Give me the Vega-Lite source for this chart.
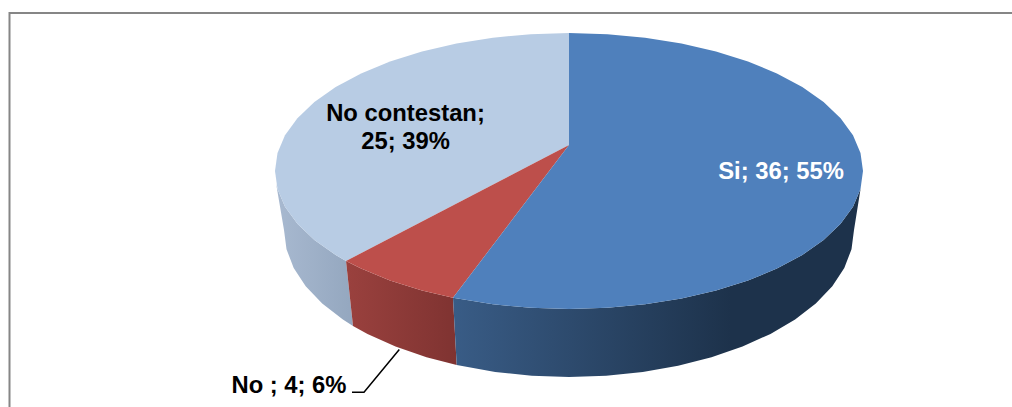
{"$schema":"https://vega.github.io/schema/vega-lite/v6.json","width":1012,"height":407,"autosize":"none","padding":0,"background":"#ffffff","config":{"view":{"stroke":null}},
"datasets":{
"marco":[{"x":-559.5,"y":-262},{"x":-559.5,"y":132},{"x":443,"y":132}],
"lado_nc":[{"x":-293,"y":-38},{"x":-291.5,"y":-44},{"x":-284,"y":-61.7},{"x":-271.6,"y":-78.8},{"x":-254.6,"y":-95},{"x":-233.3,"y":-110},{"x":-223,"y":-116},{"x":-216,"y":-181},{"x":-226.1,"y":-174.5},{"x":-246.8,"y":-158.5},{"x":-263.3,"y":-141.3},{"x":-275.3,"y":-123},{"x":-282.5,"y":-104.2},{"x":-285,"y":-85}],
"lado_no":[{"x":-223,"y":-116},{"x":-207.9,"y":-123.6},{"x":-179,"y":-135.5},{"x":-147,"y":-145.5},{"x":-116,"y":-152.8},{"x":-112.3,"y":-220},{"x":-142.5,"y":-212.3},{"x":-173.5,"y":-201.6},{"x":-201.5,"y":-188.9},{"x":-216,"y":-181}],
"lado_si":[{"x":-116,"y":-152.8},{"x":-76.1,"y":-159.3},{"x":-38.4,"y":-162.8},{"x":0,"y":-164},{"x":38.4,"y":-162.8},{"x":76.1,"y":-159.3},{"x":112.5,"y":-153.5},{"x":147,"y":-145.5},{"x":179,"y":-135.5},{"x":207.9,"y":-123.6},{"x":233.3,"y":-110},{"x":254.6,"y":-95},{"x":271.6,"y":-78.8},{"x":284,"y":-61.7},{"x":291.5,"y":-44},{"x":292.5,"y":-38},{"x":285,"y":-85},{"x":282.5,"y":-104.2},{"x":275.3,"y":-123},{"x":263.3,"y":-141.3},{"x":246.8,"y":-158.5},{"x":226.1,"y":-174.5},{"x":201.5,"y":-188.9},{"x":173.5,"y":-201.6},{"x":142.5,"y":-212.3},{"x":109.1,"y":-220.8},{"x":73.8,"y":-227},{"x":37.2,"y":-230.7},{"x":0,"y":-232},{"x":-37.2,"y":-230.7},{"x":-73.8,"y":-227},{"x":-112.3,"y":-220}],
"si":[{"x":0,"y":0},{"x":0,"y":112},{"x":38.4,"y":110.8},{"x":76.1,"y":107.3},{"x":112.5,"y":101.5},{"x":147,"y":93.5},{"x":179,"y":83.5},{"x":207.9,"y":71.6},{"x":233.3,"y":58},{"x":254.6,"y":43},{"x":271.6,"y":26.8},{"x":284,"y":9.7},{"x":291.5,"y":-8},{"x":294,"y":-26},{"x":291.5,"y":-44},{"x":284,"y":-61.7},{"x":271.6,"y":-78.8},{"x":254.6,"y":-95},{"x":233.3,"y":-110},{"x":207.9,"y":-123.6},{"x":179,"y":-135.5},{"x":147,"y":-145.5},{"x":112.5,"y":-153.5},{"x":76.1,"y":-159.3},{"x":38.4,"y":-162.8},{"x":0,"y":-164},{"x":-38.4,"y":-162.8},{"x":-76.1,"y":-159.3},{"x":-116,"y":-152.8}],
"no":[{"x":0,"y":0},{"x":-116,"y":-152.8},{"x":-147,"y":-145.5},{"x":-179,"y":-135.5},{"x":-207.9,"y":-123.6},{"x":-223,"y":-116}],
"nc":[{"x":0,"y":0},{"x":-223,"y":-116},{"x":-233.3,"y":-110},{"x":-254.6,"y":-95},{"x":-271.6,"y":-78.8},{"x":-284,"y":-61.7},{"x":-291.5,"y":-44},{"x":-294,"y":-26},{"x":-291.5,"y":-8},{"x":-284,"y":9.7},{"x":-271.6,"y":26.8},{"x":-254.6,"y":43},{"x":-233.3,"y":58},{"x":-207.9,"y":71.6},{"x":-179,"y":83.5},{"x":-147,"y":93.5},{"x":-112.5,"y":101.5},{"x":-76.1,"y":107.3},{"x":-38.4,"y":110.8},{"x":0,"y":112}],
"guia":[{"x":-217,"y":-247.3},{"x":-205,"y":-247.3},{"x":-169.7,"y":-204.5}],
"rotulos":[{"categoria":"Si","valor":36,"porcentaje":55,"etiqueta":"Si; 36; 55%","x":212,"y":-34.3},{"categoria":"No","valor":4,"porcentaje":6,"etiqueta":"No ; 4; 6%","x":-280,"y":-247.7},{"categoria":"No contestan","valor":25,"porcentaje":39,"etiqueta":"No contestan;\n25; 39%","x":-163.5,"y":24.3}]
},
"encoding":{"x":{"field":"x","type":"quantitative","axis":null,"scale":{"domain":[-569,443],"nice":false,"zero":false}},"y":{"field":"y","type":"quantitative","axis":null,"scale":{"domain":[-262,145],"nice":false,"zero":false}},"order":{"value":null}},
"layer":[
{"data":{"name":"marco"},"mark":{"type":"line","stroke":"#868686","strokeWidth":2,"clip":false}},
{"data":{"name":"lado_nc"},"mark":{"type":"line","strokeWidth":0,"fill":{"gradient":"linear","x1":0,"y1":0,"x2":1,"y2":0,"stops":[{"offset":0,"color":"#a8b9d0"},{"offset":1,"color":"#94a7bf"}]}}},
{"data":{"name":"lado_no"},"mark":{"type":"line","strokeWidth":0,"fill":{"gradient":"linear","x1":0,"y1":0,"x2":1,"y2":0,"stops":[{"offset":0,"color":"#9a413e"},{"offset":1,"color":"#7f3331"}]}}},
{"data":{"name":"lado_si"},"mark":{"type":"line","strokeWidth":0,"fill":{"gradient":"linear","x1":0,"y1":0,"x2":1,"y2":0,"stops":[{"offset":0,"color":"#395c86"},{"offset":0.68,"color":"#1d324b"},{"offset":1,"color":"#1d324b"}]}}},
{"data":{"name":"nc"},"mark":{"type":"line","strokeWidth":0,"fill":"#b8cce4"}},
{"data":{"name":"no"},"mark":{"type":"line","strokeWidth":0,"fill":"#bd4f4b"}},
{"data":{"name":"si"},"mark":{"type":"line","strokeWidth":0,"fill":"#4f80bc"}},
{"data":{"name":"guia"},"mark":{"type":"line","stroke":"#000000","strokeWidth":1.5}},
{"data":{"name":"rotulos"},"mark":{"type":"text","font":"Liberation Sans","fontWeight":"bold","fontSize":23.8,"lineBreak":"\n","lineHeight":28.6,"align":"center","baseline":"alphabetic"},"encoding":{"text":{"field":"etiqueta","type":"nominal"},"color":{"field":"categoria","type":"nominal","legend":null,"scale":{"domain":["Si","No","No contestan"],"range":["#ffffff","#000000","#000000"]}}}}
]}
